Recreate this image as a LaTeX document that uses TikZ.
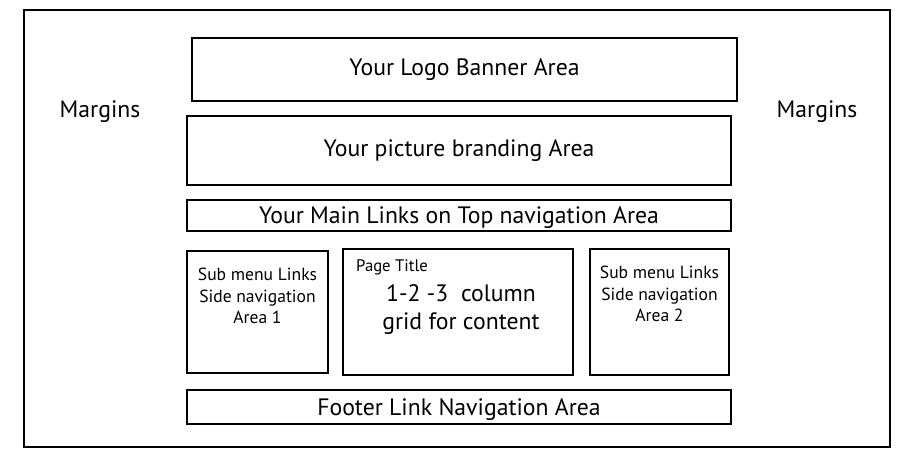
\documentclass[tikz,border=0pt]{standalone}
\usepackage{fontspec}
\setmainfont{PT Sans}
\usetikzlibrary{positioning}
\tikzset{
  area/.style={draw=black, line width=1.1pt, inner sep=0pt},
  bigtxt/.style={font=\fontsize{13.5}{16}\selectfont},
  oneline/.style={bigtxt, text depth=0pt},
  smalltxt/.style={font=\fontsize{10}{12.2}\selectfont, align=center},
}
\begin{document}
\begin{tikzpicture}[x=0.02cm, y=-0.02cm]
      \useasboundingbox (0,0) rectangle (914,460);
      \node[area, minimum width=866*0.02cm, minimum height=437*0.02cm] (page) at (457,228.5) {};
      \node[oneline] (lmargin) at (100,109) {Margins};
      \node[oneline] (rmargin) at (817,109) {Margins};
      \node[area, bigtxt, minimum width=545*0.02cm, minimum height=63*0.02cm] (logo) at (464.5,69.5) {Your Logo Banner Area};
      \node[area, bigtxt, minimum width=544*0.02cm, minimum height=69*0.02cm] (brand) at (459,150.5) {Your picture branding Area};
      \node[area, oneline, minimum width=544*0.02cm, minimum height=31*0.02cm] (toplinks) at (459,215.5) {Your Main Links on Top navigation Area};
      \node[area, minimum width=141*0.02cm, minimum height=122*0.02cm] (side1) at (257.5,312) {};
      \node[area, minimum width=230*0.02cm, minimum height=126*0.02cm] (content) at (458,312) {};
      \node[area, minimum width=139*0.02cm, minimum height=126*0.02cm] (side2) at (659.5,312) {};
      \node[area, oneline, minimum width=544*0.02cm, minimum height=34*0.02cm] (footer) at (459,407) {Footer Link Navigation Area};
      % text inside the lower boxes
      \node[smalltxt, anchor=north] (side1txt) at ([yshift=-0.24cm]side1.north) {Sub menu Links\\Side navigation\\Area 1};
      \node[smalltxt, anchor=north] (side2txt) at ([yshift=-0.24cm]side2.north) {Sub menu Links\\Side navigation\\Area 2};
      \node[font=\fontsize{9.5}{11}\selectfont, anchor=north west] (pagetitle) at ([xshift=0.16cm, yshift=-0.11cm]content.north west) {Page Title};
      \node[bigtxt, align=center, anchor=north] (grid) at ([xshift=0.06cm, yshift=-0.6cm]content.north) {1-2 -3\ \ column\\grid for content};
    \end{tikzpicture}
\end{document}
